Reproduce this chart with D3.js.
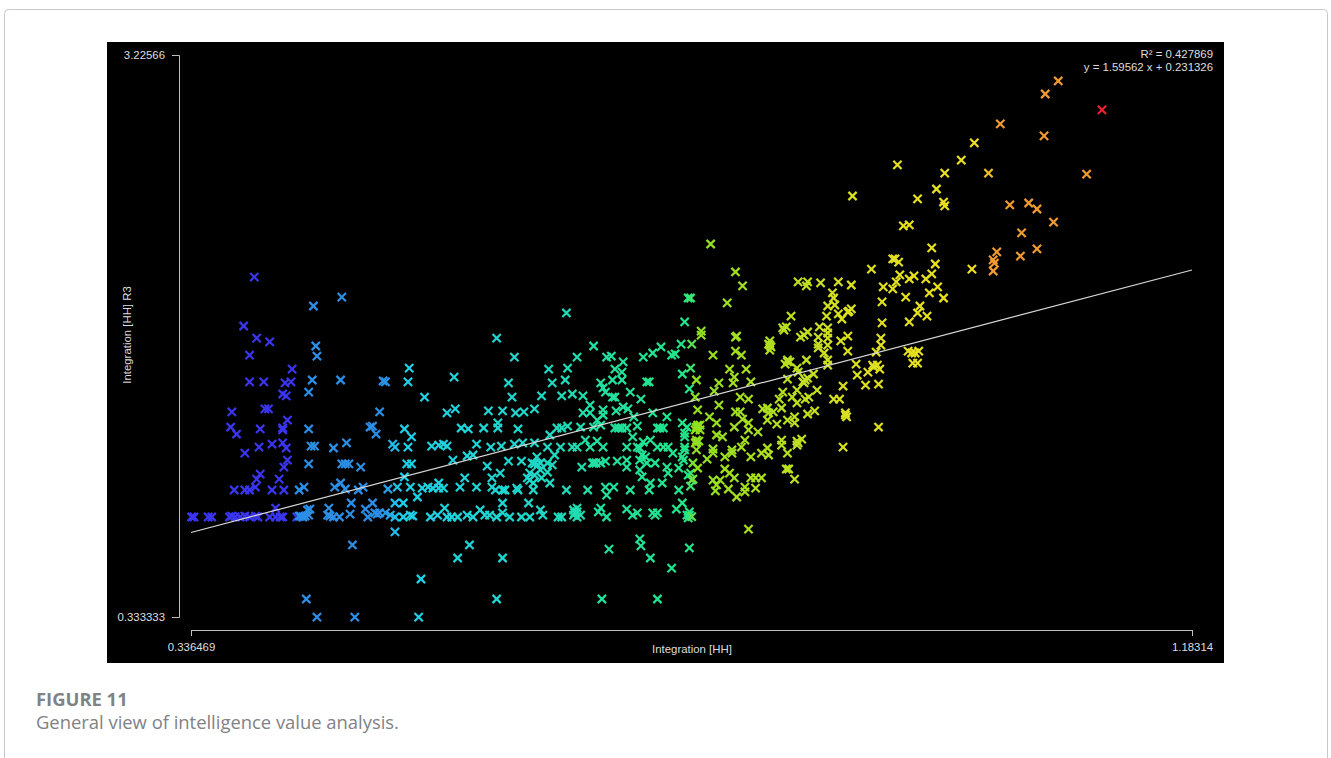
<!DOCTYPE html>
<html>
<head>
<meta charset="utf-8">
<script src="https://cdnjs.cloudflare.com/ajax/libs/d3/7.8.5/d3.min.js"></script>
<style>
  body { margin: 0; background: #fff; }
  svg { display: block; }
  .plot text { font-family: "Liberation Sans", Arial, sans-serif; font-size: 11.4px; fill: #dedede; }
  .plot .domain, .plot .tick line { stroke: #bdbdbd; }
  .caption { font-family: "Open Sans", sans-serif; fill: #808285; }
</style>
</head>
<body>
<div id="app"></div>
<script>
// [Integration [HH], Integration [HH] R3] pairs
const leftPoints = [
  [.390,2.083],[.440,1.934],[.464,1.980],[.381,1.831],[.392,1.769],[.403,1.749],[.386,1.681],[.442,1.728],[.443,1.676],
  [.422,1.609],[.386,1.543],[.398,1.543],[.416,1.538],[.421,1.543],[.439,1.553],[.463,1.553],[.436,1.491],[.414,1.481],
  [.417,1.471],[.371,1.389],[.399,1.404],[.402,1.404],[.418,1.347],[.370,1.311],[.375,1.275],[.395,1.301],[.414,1.306],
  [.414,1.296],[.436,1.301],[.382,1.177],[.394,1.208],[.405,1.223],[.414,1.229],[.417,1.203],[.438,1.213],[.441,1.213],
  [.457,1.203],[.468,1.229],[.488,1.311],[.490,1.316],[.493,1.275],[.418,1.141],[.415,1.105],[.436,1.121],[.464,1.121],
  [.467,1.121],[.470,1.121],[.480,1.105],[.395,1.069],[.392,1.043],[.411,1.043],[.391,1.002],[.373,.987],[.382,.987],
  [.386,.987],[.405,.987],[.415,.987],[.428,.987],[.432,1.002],[.458,1.002],[.463,1.023],[.467,.992],[.478,.987],[.482,1.002]
];
const lowRowPoints = [
  [.337,.848],[.339,.848],[.351,.848],[.354,.848],[.369,.848],[.371,.853],[.374,.848],[.378,.848],[.382,.853],[.386,.848],
  [.391,.853],[.393,.848],[.403,.848],[.408,.848],[.412,.848],[.414,.848],[.426,.848],[.429,.853],[.431,.848],[.408,.894],
  [.437,.889],[.435,.884],[.453,.894],[.452,.858],[.454,.853],[.457,.848],[.462,.848],[.471,.863],[.472,.920],[.484,.889],
  [.486,.848],[.490,.920],[.494,.863],[.473,.704],[.434,.426],[.443,.333],[.475,.333],
  [.492,.869],[.496,.869],[.501,.869],[.505,.858],[.509,.848],[.516,.848],[.522,.858],[.524,.853],[.539,.848],[.545,.858],
  [.551,.894],[.553,.848],[.557,.848],[.562,.848],[.570,.858],[.575,.848],[.581,.884],[.585,.858],[.589,.858],[.595,.848],
  [.600,.869],[.606,.848],[.616,.848],[.623,.848],[.632,.884],[.634,.858],[.647,.848],[.650,.848],[.663,.894],[.663,.848],
  [.661,.869],[.681,.874],[.683,.894],[.688,.848],[.705,.889],[.710,.858],[.714,.869],[.727,.869],[.731,.869],[.729,.858],
  [.747,.889],[.752,.920],[.758,.858],[.758,.874],[.756,.858],[.509,.771],[.572,.704],[.562,.637],[.600,.637],[.531,.529],
  [.595,.426],[.529,.333],[.684,.426],[.731,.426],[.690,.683],[.716,.735],[.717,.699],[.725,.637],[.743,.585],[.758,.689],
  [.509,.920],[.516,.920],[.600,.920],[.622,.920],[.428,.853],[.433,.853],[.436,.858],[.660,.858],[.666,.858],[.663,.874],
  [.660,.884],[.757,.843],[.760,.850]
];
const middlePoints = [
  [.654,1.898],[.754,1.852],[.757,1.975],[.759,1.975],[.595,1.769],[.677,1.728],[.610,1.671],[.663,1.671],[.521,1.614],
  [.639,1.609],[.655,1.614],[.559,1.568],[.499,1.548],[.501,1.543],[.520,1.543],[.605,1.538],[.642,1.538],[.653,1.553],
  [.534,1.465],[.608,1.465],[.633,1.471],[.650,1.471],[.659,1.481],[.668,1.471],[.496,1.389],[.553,1.384],[.560,1.404],
  [.588,1.394],[.600,1.394],[.611,1.384],[.618,1.389],[.627,1.404],[.674,1.424],[.668,1.384],[.674,1.384],[.517,1.301],
  [.523,1.260],[.565,1.306],[.571,1.301],[.584,1.306],[.596,1.332],[.596,1.306],[.613,1.301],[.507,1.223],[.509,1.208],
  [.520,1.208],[.540,1.213],[.546,1.218],[.550,1.223],[.553,1.213],[.578,1.223],[.590,1.208],[.599,1.213],[.610,1.223],
  [.617,1.229],[.627,1.229],[.638,1.208],[.649,1.208],[.640,1.270],[.646,1.306],[.650,1.306],[.655,1.316],[.659,1.208],
  [.663,1.208],[.674,1.208],[.670,1.244],[.680,1.239],[.685,1.208],[.666,1.311],[.677,1.311],[.683,1.321],[.680,1.347],
  [.685,1.399],[.685,1.373],[.695,1.306],[.698,1.306],[.705,1.306],[.701,1.306],[.696,1.394],[.702,1.414],[.706,1.404],
  [.727,1.384],[.711,1.363],[.739,1.363],[.714,1.316],[.731,1.306],[.736,1.306],[.733,1.306],[.752,1.332],[.756,1.311],
  [.683,1.538],[.685,1.512],[.693,1.553],[.701,1.553],[.695,1.609],[.701,1.594],[.702,1.646],[.688,1.671],[.692,1.676],
  [.719,1.671],[.727,1.692],[.734,1.723],[.743,1.681],[.746,1.687],[.751,1.738],[.760,1.738],[.759,1.614],[.752,1.584],
  [.758,1.507],[.722,1.543],[.724,1.543],[.708,1.491],[.717,1.455],[.693,1.465],[.695,1.465],[.687,1.491],[.710,1.260],
  [.705,1.208],[.714,1.208],[.719,1.234],[.725,1.244],[.716,1.203],[.718,1.167],[.731,1.208],[.736,1.208],[.740,1.208],
  [.721,1.157],[.722,1.126],[.744,1.177],[.752,1.157],[.754,1.208],[.754,1.280],[.705,1.141],[.697,1.136],[.687,1.136],
  [.676,1.126],[.679,1.126],[.683,1.126],[.667,1.105],[.705,1.105],[.716,1.141],[.716,1.090],[.729,1.126],[.739,1.105],
  [.740,1.074],[.749,1.100],[.761,1.126],[.759,1.074],[.760,1.038],[.718,1.054],[.725,1.023],[.735,1.023],[.759,1.007],
  [.749,.987],[.724,.987],[.708,.987],[.687,1.002],[.694,1.002],[.688,.961],[.672,.987],[.654,.987],[.629,1.157],
  [.625,1.126],[.632,1.126],[.638,1.126],[.642,1.116],[.616,1.136],[.605,1.136],[.587,1.110],[.598,1.074],[.623,1.074],
  [.623,1.038],[.626,1.023],[.632,1.090],[.638,1.079],[.633,1.049],[.640,1.023],[.644,1.167],[.591,1.049],[.591,1.002],
  [.568,1.049],[.564,1.002],[.578,1.002],[.600,.987],[.594,.987],[.602,.987],[.612,.997],[.613,.987],[.626,.987],
  [.558,1.141],[.570,1.162],[.575,1.167],[.519,1.121],[.523,1.121],[.517,1.054],[.511,1.002],[.522,1.002],[.532,.997],
  [.537,1.002],[.546,1.023],[.546,.997],[.550,.997],[.541,.997],[.528,.951],[.503,.992],[.754,1.260],[.754,1.193],
  [.753,1.141],[.757,1.064],[.627,1.121],[.630,1.116],[.621,1.049],[.627,1.064],[.677,1.126]
];
const rightPoints = [
  [.776,2.253],[.797,2.109],[.803,2.037],[.790,1.950],[.768,1.805],[.768,1.784],[.798,1.779],[.797,1.774],[.826,1.754],
  [.826,1.733],[.826,1.707],[.837,1.821],[.840,1.826],[.844,1.882],[.850,2.058],[.858,2.058],[.857,2.037],[.869,2.053],
  [.884,2.058],[.895,2.042],[.912,2.124],[.963,2.233],[.966,2.150],[.932,2.176],[.935,2.160],[.930,2.176],[.936,2.094],
  [.933,2.058],[.944,2.073],[.948,2.089],[.958,2.073],[.963,2.099],[.922,2.032],[.930,2.022],[.941,1.980],[.961,2.001],
  [.968,2.032],[.973,1.975],[.921,1.955],[.953,1.934],[.951,1.898],[.959,1.882],[.944,1.852],[.921,1.847],[.879,2.001],
  [.880,1.975],[.875,1.934],[.881,1.939],[.893,1.908],[.884,1.893],[.887,1.867],[.874,1.882],[.868,1.826],[.875,1.821],
  [.875,1.795],[.858,1.800],[.855,1.784],[.852,1.774],[.867,1.774],[.875,1.769],[.867,1.738],[.875,1.733],[.867,1.718],
  [.892,1.779],[.886,1.754],[.892,1.702],[.872,1.692],[.920,1.769],[.920,1.733],[.916,1.697],[.943,1.702],[.946,1.692],
  [.952,1.702],[.949,1.692],[.951,1.640],[.947,1.640],[.857,1.656],[.841,1.656],[.841,1.646],[.843,1.646],[.839,1.635],
  [.875,1.656],[.875,1.630],[.849,1.614],[.850,1.594],[.899,1.635],[.913,1.630],[.917,1.630],[.909,1.594],[.919,1.609],
  [.900,1.578],[.863,1.584],[.856,1.553],[.854,1.543],[.858,1.563],[.841,1.558],[.907,1.527],[.918,1.532],[.888,1.522],
  [.849,1.501],[.866,1.501],[.837,1.491],[.834,1.455],[.845,1.465],[.849,1.435],[.856,1.455],[.859,1.465],[.880,1.455],
  [.885,1.455],[.890,1.384],[.891,1.363],[.918,1.311],[.820,1.404],[.824,1.409],[.825,1.384],[.829,1.389],[.824,1.347],
  [.836,1.409],[.832,1.326],[.841,1.347],[.847,1.363],[.847,1.332],[.858,1.378],[.864,1.394],[.816,1.286],[.849,1.239],
  [.850,1.229],[.853,1.249],[.836,1.244],[.836,1.218],[.841,1.177],[.888,1.208],[.824,1.203],[.819,1.177],[.825,1.167],
  [.840,1.095],[.842,1.095],[.847,1.043],[.810,1.157],[.805,1.244],[.802,1.208],[.788,1.157],[.794,1.193],[.794,1.177],
  [.773,1.146],[.778,1.198],[.778,1.177],[.788,1.095],[.792,1.074],[.796,1.049],[.810,1.049],[.814,1.049],[.819,1.049],
  [.778,1.038],[.784,1.038],[.780,.982],[.781,1.013],[.791,.992],[.798,.951],[.805,1.002],[.805,.977],[.814,.997],
  [.808,.786],[.797,1.389],[.801,1.389],[.803,1.352],[.808,1.332],[.808,1.296],[.796,1.311],[.775,1.363],[.781,1.332],
  [.781,1.270],[.786,1.260],[.765,1.321],[.765,1.311],[.767,1.321],[.764,1.311],[.765,1.399],[.764,1.244],[.764,1.234],
  [.764,1.193],[.765,1.100],[.761,1.043],[.783,1.424],[.801,1.465],[.808,1.455],[.779,1.496],[.783,1.538],[.796,1.568],
  [.795,1.538],[.792,1.609],[.806,1.609],[.810,1.543],[.764,1.553],[.778,1.681],[.797,1.702],[.802,1.681],[.763,1.465],
  [.764,1.306],[.767,1.296],[.763,1.296],[.766,1.239],[.763,1.229],[.825,1.738],[.827,1.723],[.838,1.810],[.892,1.903],
  [.895,1.919],[.855,1.538],[.849,1.218],[.914,1.620],[.890,1.373]
];
const upperPoints = [
  [1.070,3.092],[1.059,3.025],[1.107,2.943],[1.021,2.871],[1.058,2.809],[.999,2.773],[.988,2.685],[.934,2.660],[.974,2.618],
  [1.011,2.618],[1.094,2.613],[.967,2.536],[.896,2.500],[.951,2.485],[.973,2.469],[.974,2.449],[1.029,2.454],[1.045,2.464],
  [1.052,2.433],[1.066,2.366],[.939,2.346],[.944,2.351],[1.039,2.310],[1.018,2.212],[1.052,2.228],[1.038,2.191],[1.015,2.171],
  [1.016,2.155],[1.015,2.114],[.997,2.124]
];
const xTicks = [0.336469, 1.18314]
const yTicks = [0.333333, 3.22566]
const xTickLabels = ['0.336469', '1.18314']
const yTickLabels = ['0.333333', '3.22566']
const slope = 1.59562
const intercept = 0.231326
const statLabels = ['R\u00b2 = 0.427869', 'y = 1.59562 x + 0.231326']
const colorStops = [.3365, .4265, .427, .500, .513, .632, .683, .758, .762, .835, .894, 1.010, 1.012, 1.096, 1.100]
const colorValues = ['#3a35ee', '#3a35ee', '#2b8fe8', '#2b8fe8', '#1fd0ea', '#1fd8c8', '#22e0a0', '#22e688', '#8fe020', '#b5e020', '#dbe020', '#f0e020', '#f09a30', '#f09a30', '#f02030']

const data = [...leftPoints, ...lowRowPoints, ...middlePoints, ...rightPoints, ...upperPoints]

const width = 1331, height = 758
const svg = d3.select('#app').append('svg').attr('width', width).attr('height', height)

// article card behind the figure
svg.append('rect').attr('x', 4.5).attr('y', 9.5).attr('width', 1323).attr('height', 800).attr('rx', 4)
    .attr('fill', '#fff').attr('stroke', '#c9c9c9')

const plot = svg.append('g').attr('class', 'plot')
plot.append('rect').attr('x', 107).attr('y', 42).attr('width', 1117).attr('height', 621).attr('fill', '#000')

const xScale = d3.scaleLinear().domain(xTicks).range([191, 1192])
const yScale = d3.scaleLinear().domain(yTicks).range([617, 55])
const colorScale = d3.scaleLinear().domain(colorStops).range(colorValues).clamp(true)

plot.append('g').attr('transform', 'translate(179,0)')
    .call(d3.axisLeft(yScale).tickValues(yTicks).tickSize(7).tickPadding(7).tickFormat((d, i) => yTickLabels[i]))
plot.append('g').attr('transform', 'translate(0,630)')
    .call(d3.axisBottom(xScale).tickValues(xTicks).tickSize(6).tickPadding(7).tickFormat((d, i) => xTickLabels[i]))

plot.append('text').attr('x', 692).attr('y', 653).attr('text-anchor', 'middle').text('Integration [HH]')
plot.append('text').attr('transform', 'translate(131,335) rotate(-90)').attr('text-anchor', 'middle').text('Integration [HH] R3')

const symbol = d3.symbol().type(d3.symbolTimes).size(46)
plot.selectAll('path.point')
    .data(data)
    .enter().append('path')
    .attr('class', 'point')
    .attr('transform', d => `translate(${xScale(d[0])},${yScale(d[1])})`)
    .attr('d', symbol)
    .attr('fill', 'none')
    .attr('stroke', d => colorScale(d[0]))
    .attr('stroke-width', 2.2)

const trend = d3.line().x(d => xScale(d)).y(d => yScale(slope * d + intercept))
plot.append('path').attr('d', trend(xTicks)).attr('fill', 'none').attr('stroke', '#d8d8d8').attr('stroke-width', 1.2)

plot.selectAll('text.stat')
    .data(statLabels)
    .enter().append('text')
    .attr('class', 'stat')
    .attr('x', 1213)
    .attr('y', (d, i) => 58 + i * 13)
    .attr('text-anchor', 'end')
    .text(d => d)

svg.append('text').attr('class', 'caption').attr('x', 36).attr('y', 706)
    .attr('font-size', 18.4).attr('font-weight', 700).text('FIGURE 11')
svg.append('text').attr('class', 'caption').attr('x', 36).attr('y', 729)
    .attr('font-size', 18.4).text('General view of intelligence value analysis.')
</script>
</body>
</html>
